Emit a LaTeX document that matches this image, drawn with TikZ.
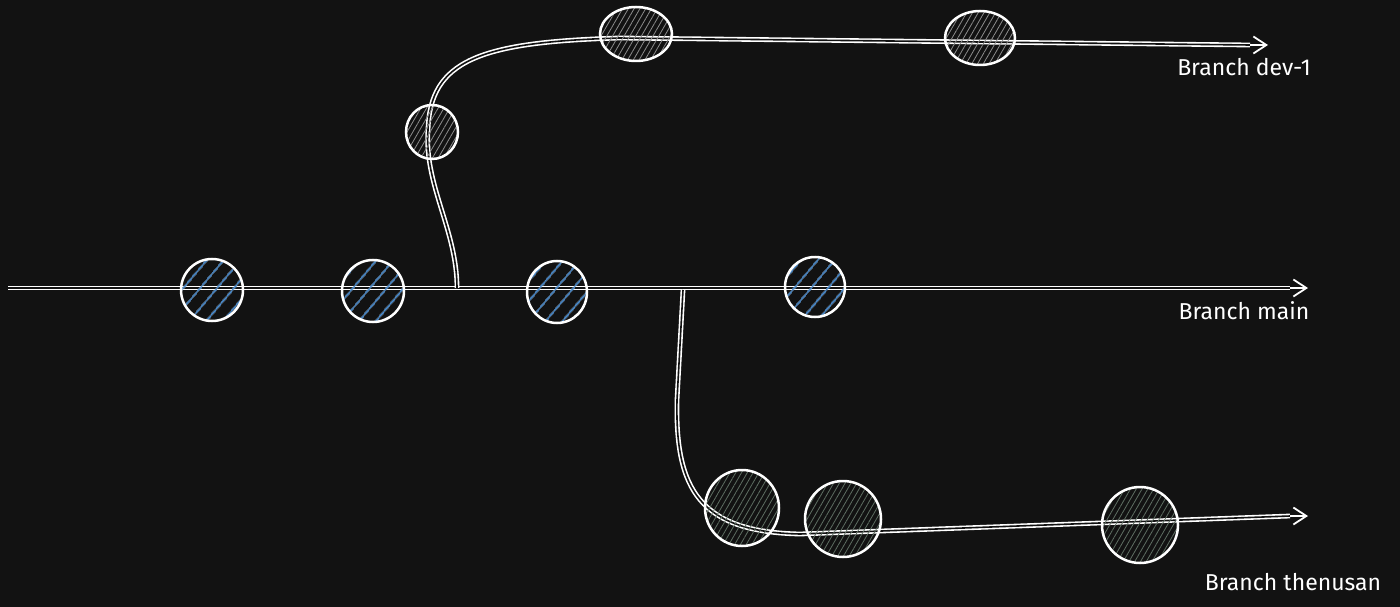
\documentclass[tikz,border=0pt]{standalone}
\usepackage{fontspec}
\setmainfont{Fira Sans}
\usetikzlibrary{arrows.meta,patterns.meta,shapes.geometric}
\definecolor{bg}{HTML}{121212}
\definecolor{hblue}{HTML}{4F8FD0}
\definecolor{hgray}{HTML}{8C8C8C}
\definecolor{hgreen}{HTML}{5E6E62}
\tikzset{
  branchline/.style={draw=white, line width=1.6pt, double=bg, double distance=1.6pt},
  tip/.style={draw=white, line width=1.8pt, -{Straight Barb[length=13pt,width=17pt,line width=1.8pt]}},
  commit/.style={ellipse, draw=white, line width=2.5pt, inner sep=0pt},
  bluecommit/.style={commit, pattern={Lines[angle=50,distance=13pt,line width=1.8pt]}, pattern color=hblue},
  graycommit/.style={commit, pattern={Lines[angle=60,distance=5pt,line width=0.8pt]}, pattern color=hgray},
  greencommit/.style={commit, pattern={Lines[angle=60,distance=5pt,line width=0.8pt]}, pattern color=hgreen},
  label/.style={text=white, font=\fontsize{23}{26}\selectfont, inner sep=0pt}
}
\begin{document}
\begin{tikzpicture}[x=1pt,y=-1pt]
\fill[bg] (0,0) rectangle (1400,607);
\useasboundingbox (0,0) rectangle (1400,607);
% coordinates
\coordinate (ms) at (8,288);
\coordinate (me0) at (1290,288);
\coordinate (me) at (1308,288);
\coordinate (db) at (457,288);
\coordinate (dk) at (428,130);
\coordinate (dt) at (620,38);
\coordinate (de0) at (1250,45);
\coordinate (de) at (1268,45);
\coordinate (tb) at (683,290);
\coordinate (tk) at (677,400);
\coordinate (tm) at (800,534);
\coordinate (te0) at (1290,516);
\coordinate (te) at (1308,516);
% lines
\draw[branchline] (ms) -- (me0);
\draw[tip] (me0) -- (me);
\draw[branchline] (db) .. controls (457,230) and (424,185) .. (dk)
  .. controls (430,60) and (480,42) .. (dt) -- (de0);
\draw[tip] (de0) -- (de);
\draw[branchline] (tb) -- (tk) .. controls (675,490) and (700,532) .. (tm) -- (te0);
\draw[tip] (te0) -- (te);
% commits on main
\node[bluecommit, minimum width=62pt, minimum height=62pt] (m1) at (212,290) {};
\node[bluecommit, minimum width=62pt, minimum height=62pt] (m2) at (373,291) {};
\node[bluecommit, minimum width=60pt, minimum height=62pt] (m3) at (557,292) {};
\node[bluecommit, minimum width=60pt, minimum height=60pt] (m4) at (815,287) {};
% commits on dev-1
\node[graycommit, minimum width=52pt, minimum height=54pt] (d1) at (432,132) {};
\node[graycommit, minimum width=72pt, minimum height=54pt] (d2) at (636,34) {};
\node[graycommit, minimum width=70pt, minimum height=54pt] (d3) at (980,38) {};
% commits on thenusan
\node[greencommit, minimum width=74pt, minimum height=76pt] (t1) at (742,508) {};
\node[greencommit, minimum width=76pt, minimum height=76pt] (t2) at (843,519) {};
\node[greencommit, minimum width=76pt, minimum height=76pt] (t3) at (1140,525) {};
% labels
\node[label] (ld) at (1244,67) {Branch dev-1};
\node[label] (lm) at (1244,311) {Branch main};
\node[label] (lt) at (1293,582) {Branch thenusan};
\end{tikzpicture}
\end{document}
